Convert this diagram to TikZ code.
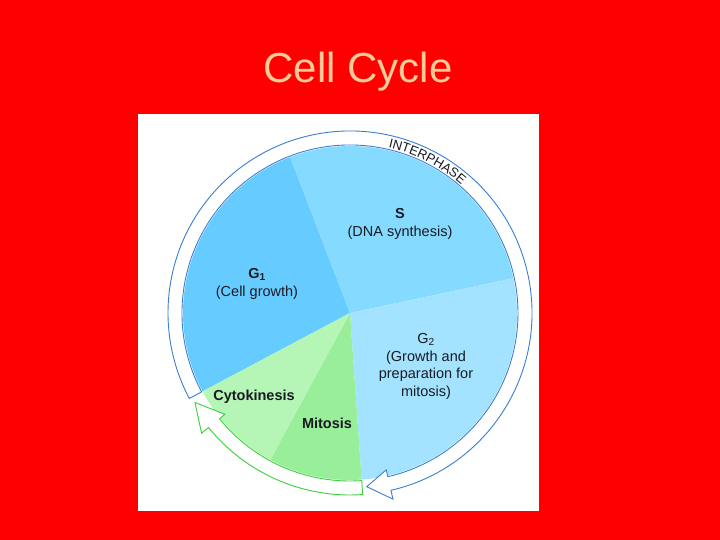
\documentclass[tikz,border=0pt]{standalone}
\usepackage{fontspec}
\setmainfont{Liberation Sans}
\usepackage{tikz}
\usetikzlibrary{decorations.text}
\usepackage{xcolor}
\definecolor{SlideRed}{HTML}{FF0000}
\definecolor{TitlePeach}{HTML}{FFCC99}
\definecolor{GOneBlue}{HTML}{66CCFF}
\definecolor{SBlue}{HTML}{85DAFF}
\definecolor{GTwoBlue}{HTML}{A3E3FF}
\definecolor{MitGreen}{HTML}{99EE99}
\definecolor{CytoGreen}{HTML}{B5F5B5}
\definecolor{ArcBlue}{HTML}{3A7FD0}
\definecolor{ArcGreen}{HTML}{3CCF3C}
\definecolor{LabelInk}{HTML}{1A1A24}

\begin{document}
\begin{tikzpicture}[x=1pt,y=1pt,
    title/.style={text=TitlePeach,anchor=base,font=\fontsize{42}{48}\selectfont},
    lbl/.style={text=LabelInk,align=center,font=\fontsize{14.5}{17.7}\selectfont},
    boldlbl/.style={lbl,font=\fontsize{14.5}{17.7}\selectfont\bfseries},
    bluearc/.style={fill=white,draw=ArcBlue,line width=0.9pt,line join=miter},
    greenarc/.style={fill=white,draw=ArcGreen,line width=0.9pt,line join=miter}
  ]
    \fill[SlideRed] (0,0) rectangle (720,540);
    \useasboundingbox (0,0) rectangle (720,540);
    \fill[white] (138,29) rectangle (539,426);
    \node[title] (ttl) at (358,457) {Cell Cycle};
    \begin{scope}[shift={(350,227)}]
      % phases
      \fill[GOneBlue] (0,0) -- (111:167) arc[start angle=111,end angle=208,radius=167] -- cycle;
      \fill[SBlue] (0,0) -- (12:167) arc[start angle=12,end angle=111,radius=167] -- cycle;
      \fill[GTwoBlue] (0,0) -- (-86:167) arc[start angle=-86,end angle=12,radius=167] -- cycle;
      \fill[MitGreen] (0,0) -- (-118.5:167) arc[start angle=-118.5,end angle=-86,radius=167] -- cycle;
      \fill[CytoGreen] (0,0) -- (208:167) arc[start angle=208,end angle=241.5,radius=167] -- cycle;
      % interphase arrow
      \draw[bluearc] (208:168) arc[start angle=208,end angle=-77,radius=168]
        -- (-77:161) -- (-84.5:174.5) -- (-77:191) -- (-77:182)
        arc[start angle=-77,end angle=208,radius=182] -- cycle;
      % mitotic arrow
      \draw[greenarc] (-86:168) arc[start angle=-86,end angle=-141,radius=168]
        -- (-141:161) -- (-150:179) -- (-141:191) -- (-141:182)
        arc[start angle=-141,end angle=-86,radius=182] -- cycle;
      \path[decorate,decoration={text along path,text align=center,text color=LabelInk,
          text={|\fontsize{13}{13}\selectfont|INTERPHASE}}]
        (96:170) arc[start angle=96,end angle=30,radius=170];
    \end{scope}
    \node[lbl] (s) at (400,316) {\textbf{S}\\(DNA synthesis)};
    \node[lbl] (g1) at (257,256) {\textbf{G\textsubscript{1}}\\(Cell growth)};
    \node[lbl] (g2) at (426,173.5) {G\textsubscript{2}\\(Growth and\\preparation for\\mitosis)};
    \node[boldlbl] (cyto) at (254,143) {Cytokinesis};
    \node[boldlbl] (mit) at (327,117) {Mitosis};
  \end{tikzpicture}
\end{document}
